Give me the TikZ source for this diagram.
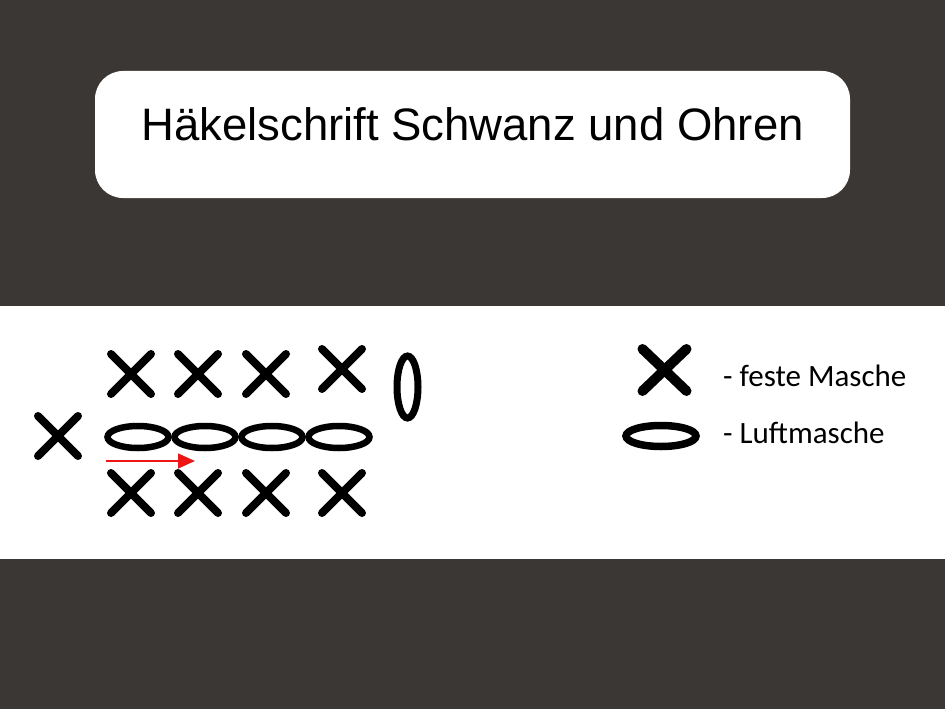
\documentclass[tikz,border=0pt]{standalone}
\usepackage{fontspec}
\setmainfont{Liberation Sans}
\newfontfamily\calib{Carlito}
\usetikzlibrary{shapes.geometric,arrows.meta}
\definecolor{bgdark}{RGB}{59,55,52}
\definecolor{arrowred}{RGB}{240,20,20}
\tikzset{
  fmark/.pic={\draw[line width=8pt,line cap=round] (-#1,-#1) -- (#1,#1) (-#1,#1) -- (#1,-#1);},
  fmarkbig/.pic={\draw[line width=10pt,line cap=round] (-22,-21) -- (22,21) (-22,21) -- (22,-21);},
  lmoval/.style={ellipse,draw,line width=6.5pt,minimum width=61pt,minimum height=22pt,inner sep=0pt},
  vertoval/.style={ellipse,draw,line width=7pt,minimum width=21pt,minimum height=62pt,inner sep=0pt},
  legoval/.style={ellipse,draw,line width=7.5pt,minimum width=70pt,minimum height=21pt,inner sep=0pt},
  legtext/.style={anchor=base west,font=\calib\fontsize{31pt}{35pt}\selectfont,inner sep=0pt},
  redarrow/.style={draw=arrowred,line width=1.5pt,-{Triangle[length=17pt,width=15pt]}},
  titlebox/.style={fill=white,rounded corners=28pt}
}
\begin{document}
\begin{tikzpicture}[x=1pt,y=-1pt]
\useasboundingbox (0,0) rectangle (945,709);
\fill[bgdark] (0,0) rectangle (945,709);
\fill[white] (0,306) rectangle (945,559);
\fill[titlebox] (95,71) rectangle (850,198);
\node[anchor=base,inner sep=0pt] (title) at (472.5,140) {\fontsize{45.5pt}{50pt}\selectfont Häkelschrift Schwanz und Ohren};
% top row of single crochets
\pic (t1) at (131,374) {fmark=20};
\pic (t2) at (198,374) {fmark=20};
\pic (t3) at (266,374) {fmark=20};
\pic (t4) at (342,369) {fmark=20};
\node[vertoval] (v1) at (407.5,387) {};
% left X
\pic (l1) at (58,436) {fmark=20};
% chain row
\node[lmoval] (c1) at (138,437) {};
\node[lmoval] (c2) at (205,437) {};
\node[lmoval] (c3) at (272,437) {};
\node[lmoval] (c4) at (339,437) {};
% arrow
\coordinate (a1) at (106,461);
\coordinate (a2) at (195,461);
\draw[redarrow] (a1) -- (a2);
% bottom row
\pic (b1) at (131,493) {fmark=20};
\pic (b2) at (198,493) {fmark=20};
\pic (b3) at (266,493) {fmark=20};
\pic (b4) at (342,493) {fmark=20};
% legend
\pic (kx) at (664.5,370) {fmarkbig};
\node[legtext] (kt1) at (723,386) {- feste Masche};
\node[legoval] (ko) at (661,436) {};
\node[legtext] (kt2) at (723,443) {- Luftmasche};
\end{tikzpicture}
\end{document}
